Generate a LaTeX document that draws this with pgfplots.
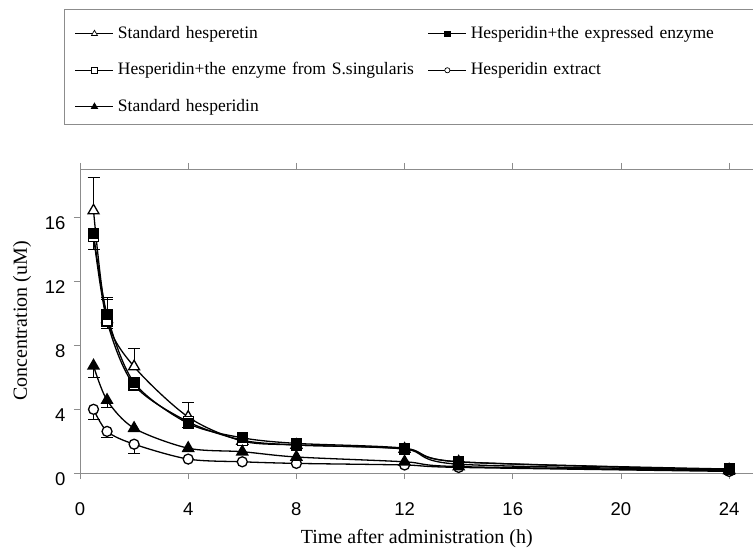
\documentclass[border=0pt]{standalone}
\usepackage{pgfplots}
\pgfplotsset{compat=1.18}
\usepackage{fontspec}
\setmainfont{Liberation Serif}
\newfontfamily\tickfont{Liberation Sans}

\pgfplotsset{
  ebar/.style={forget plot, only marks, mark=none,
    error bars/.cd, y dir=#1, y explicit,
    error bar style={draw=black, line width=0.9pt},
    error mark options={rotate=90, mark size=6pt, draw=black, line width=0.9pt}},
  ser/.style={forget plot, black, line width=1.3pt, smooth, tension=0.5,
    mark options={solid, line width=0.9pt}},
}

\begin{document}
\begin{tikzpicture}
\path[use as bounding box] (-80pt,-76pt) rectangle (673pt,473pt);
\begin{axis}[
  scale only axis, width=673.5pt, height=304pt,
  xmin=0, xmax=24.9, ymin=0, ymax=19,
  xtick={0,4,...,24}, ytick={0,4,...,16},
  axis line style={black!45},
  tick style={black!45, line width=0.8pt},
  tick align=outside, major tick length=6pt,
  /pgf/number format/assume math mode=true,
  ticklabel style={font=\fontsize{18.5}{20}\tickfont},
  xticklabel style={yshift=-20pt},
  yticklabel style={xshift=-5pt, yshift=-6pt},
  xlabel={Time after administration (h)},
  ylabel={Concentration (uM)},
  label style={font=\fontsize{20}{22}\selectfont},
  xlabel style={at={(axis description cs:0.5,-0.217)}, anchor=center},
  ylabel style={at={(axis description cs:-0.0861,0.5)}, anchor=center},
  legend columns=2,
  legend cell align=left,
  legend image code/.code={\draw[mark repeat=2, mark phase=2] plot coordinates {(0pt,0pt) (19pt,0pt) (38pt,0pt)};},
  legend style={at={(axis description cs:-0.0074,1.472)}, anchor=north west,
    draw=none, fill=none, inner sep=0pt, outer sep=0pt,
    column sep=4pt, row sep=20pt,
    nodes={inner sep=0pt, text width=306pt, text height=12.5pt, text depth=4pt,
      font=\fontsize{17.5}{19}\selectfont}},
]

% legend entries
\addlegendimage{black, line width=0.9pt, mark=triangle*, mark size=3.5pt, mark options={fill=white, line width=0.7pt}}
\addlegendentry{Standard hesperetin}
\addlegendimage{black, line width=0.9pt, mark=square*, mark size=2.8pt, mark options={fill=black}}
\addlegendentry{Hesperidin+the expressed enzyme}
\addlegendimage{black, line width=0.9pt, mark=square*, mark size=2.8pt, mark options={fill=white, line width=0.7pt}}
\addlegendentry{Hesperidin+the enzyme from S.singularis}
\addlegendimage{black, line width=0.9pt, mark=*, mark size=2.6pt, mark options={fill=white, line width=0.7pt}}
\addlegendentry{Hesperidin extract}
\addlegendimage{black, line width=0.9pt, mark=triangle*, mark size=3.5pt, mark options={fill=black}}
\addlegendentry{Standard hesperidin}

% error bars
\addplot[ebar=plus] coordinates {
  (0.5,16.4) +- (0,2.1)
  (1,9.6) +- (0,1.25)
  (2,6.65) +- (0,1.15)
  (4,3.5) +- (0,0.9)
};
\addplot[ebar=both] coordinates {
  (1,9.9) += (0,1.1) -= (0,0.85)
};
\addplot[ebar=minus] coordinates {
  (0.5,14.95) +- (0,0.95)
  (2,5.65) +- (0,0.45)
  (4,3.1) +- (0,0.25)
  (0.5,6.7) +- (0,0.7)
  (1,4.55) +- (0,0.45)
  (2,2.8) +- (0,0.2)
  (0.5,3.98) +- (0,0.65)
  (1,2.6) +- (0,0.4)
  (2,1.8) +- (0,0.55)
};

% Standard hesperetin
\addplot[ser, mark=triangle*, mark size=6.3pt, mark options={fill=white}] coordinates {
  (0.5,16.4) (1,9.6) (2,6.65) (4,3.5) (6,2.0) (8,1.75) (12,1.5) (14,0.7) (24,0.2)
};
% Hesperidin + enzyme from S.singularis
\addplot[ser, mark=square*, mark size=5pt, mark options={fill=white}] coordinates {
  (0.5,14.8) (1,9.5) (2,5.5) (4,3.2) (6,2.05) (8,1.75) (12,1.5) (14,0.55) (24,0.2)
};
% Hesperidin extract
\addplot[ser, mark=*, mark size=5pt, mark options={fill=white}] coordinates {
  (0.5,3.98) (1,2.6) (2,1.8) (4,0.87) (6,0.7) (8,0.6) (12,0.5) (14,0.35) (24,0.1)
};
% Standard hesperidin
\addplot[ser, mark=triangle*, mark size=6.3pt, mark options={fill=black}] coordinates {
  (0.5,6.7) (1,4.55) (2,2.8) (4,1.55) (6,1.33) (8,1.0) (12,0.7) (14,0.4) (24,0.15)
};
% Hesperidin + the expressed enzyme
\addplot[ser, mark=square*, mark size=5pt, mark options={fill=black}] coordinates {
  (0.5,14.95) (1,9.9) (2,5.65) (4,3.1) (6,2.2) (8,1.85) (12,1.55) (14,0.7) (24,0.25)
};
\end{axis}
\draw[black!45, line width=1pt] (-15pt,348pt) rectangle (710pt,463pt);
\end{tikzpicture}
\end{document}
